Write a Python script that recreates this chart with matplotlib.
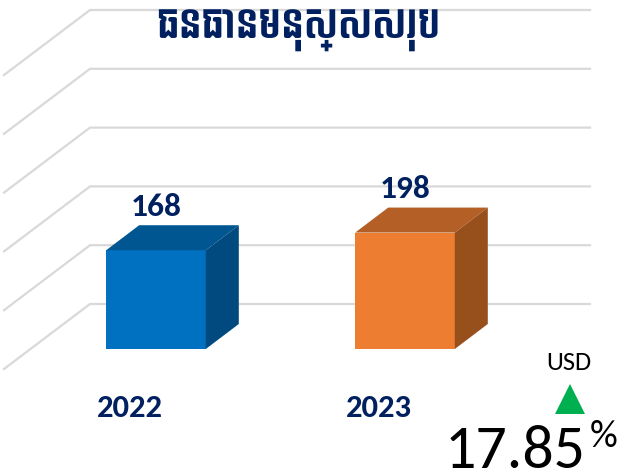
# Bar chart with a fake 3D look, total human resources 2022 / 2023
import matplotlib
matplotlib.use('Agg')
import matplotlib.pyplot as plt
from matplotlib.patches import Polygon

title = 'ធនធានមនុស្សសរុប'
years = ['2022', '2023']
values = [168, 198]
grid_values = [0, 100, 200, 300, 400, 500]
change = '17.85'

W, H = 619, 473
navy = '#002060'
front_colors = ['#0070C0', '#ED7D31']
top_colors = ['#005690', '#B45F25']
side_colors = ['#004A80', '#974F1C']
grid_color = '#D9D9D9'

# scales: one category = 249 px, 100 units = 58.8 px, zero of the bars at y=349 px
px_x = 249.0
px_y = 0.588
x0 = 156.0
y0 = 349.0
bar_w = 0.4

plt.rcParams['font.family'] = ['Carlito', 'DejaVu Sans']
fig = plt.figure(figsize=(W / 100, H / 100), dpi=100)
ax = fig.add_axes([0, 0, 1, 1])
ax.set_xlim(-x0 / px_x, (W - x0) / px_x)
ax.set_ylim(-(H - y0) / px_y, y0 / px_y)
ax.axis('off')

# depth of the bars and position of the back wall, in data units
depth_x = 33 / px_x
depth_y = 25 / px_y
wall_y = 45 / px_y
wall_left = (90 - x0) / px_x
wall_right = (590 - x0) / px_x
floor_x = (4 - x0) / px_x
floor_y = 65 / px_y

for v in grid_values:
    ax.plot([floor_x, wall_left, wall_right],
            [v + wall_y - floor_y, v + wall_y, v + wall_y],
            color=grid_color, lw=1.6, zorder=1, solid_joinstyle='miter')

for i, v in enumerate(values):
    left = i - bar_w / 2
    right = i + bar_w / 2
    ax.bar(i, v, width=bar_w, color=front_colors[i], zorder=3)
    ax.add_patch(Polygon([(left, v), (right, v), (right + depth_x, v + depth_y), (left + depth_x, v + depth_y)],
                         color=top_colors[i], lw=0, zorder=3))
    ax.add_patch(Polygon([(right, 0), (right + depth_x, depth_y), (right + depth_x, v + depth_y), (right, v)],
                         color=side_colors[i], lw=0, zorder=3))
    ax.text(i, v + depth_y + 8, str(v), ha='center', va='bottom', fontsize=24, fontweight='bold', color=navy, zorder=4)
    ax.text(i - 0.105, -(408 - y0) / px_y, years[i], ha='center', va='center', fontsize=23.5, fontweight='bold', color=navy, zorder=4)

fig.text(298 / W, 1 - 31 / H, title, ha='center', va='center', fontsize=28, color=navy, family=['Bayon', 'Carlito'])

# change block at the lower right
fig.text(569 / W, 1 - 362 / H, 'USD', ha='center', va='center', fontsize=19, color='black')
ax.plot([(570 - x0) / px_x], [-(399 - y0) / px_y], marker='^', ms=21, color='#00B050', mew=0, zorder=4)
fig.text(445 / W, 1 - 468 / H, change, ha='left', va='baseline', fontsize=44.5, color='black')
fig.text(590 / W, 1 - 447 / H, '%', ha='left', va='baseline', fontsize=28, color='black')

fig.savefig('out.png', dpi=100)
